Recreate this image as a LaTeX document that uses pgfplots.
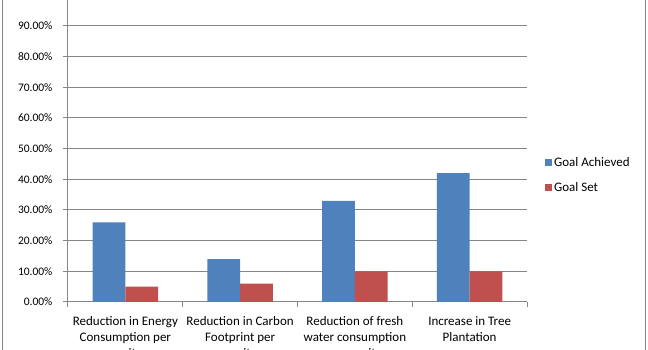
\documentclass[border=0pt]{standalone}
\usepackage{fontspec}
\setmainfont{Carlito}
\usepackage{pgfplots}
\pgfplotsset{compat=1.18}
\definecolor{gblue}{HTML}{4F81BD}
\definecolor{gred}{HTML}{C0504D}
\definecolor{ggray}{HTML}{868686}
\begin{document}
\begin{tikzpicture}[x=1pt,y=1pt]
\useasboundingbox (0,0) rectangle (648,350);
\fill[white] (0,0) rectangle (648,350);
\draw[ggray, line width=1pt] (2.5,-20) -- (2.5,370);
\draw[ggray, line width=1pt] (645,-20) -- (645,370);
\begin{axis}[
  at={(68pt,48pt)}, anchor=south west,
  scale only axis, width=459pt, height=306.7pt,
  xmin=-0.5, xmax=3.5, ymin=0, ymax=100,
  axis lines*=left,
  axis line style={ggray, line width=1pt},
  ybar=0pt, bar width=32.8pt,
  xtick={-0.5,0.5,1.5,2.5,3.5},
  x tick label as interval,
  xticklabels={{Reduction in Energy\\Consumption per\\unit},{Reduction in Carbon\\Footprint per\\unit},{Reduction of fresh\\water consumption\\per unit},{Increase in Tree\\Plantation}},
  xticklabel style={align=center, font=\fontsize{13}{16}\selectfont, yshift=-6pt},
  ytick={0,10,...,100},
  yticklabel={\pgfmathprintnumber[fixed,fixed zerofill,precision=2]{\tick}\%},
  yticklabel style={font=\fontsize{11.5}{13}\selectfont, xshift=-7pt},
  /pgf/number format/assume math mode=true,
  ymajorgrids, grid style={ggray, line width=1pt},
  tick style={ggray, line width=1pt}, major tick length=5pt, tick align=outside,
  legend style={draw=none, fill=none, at={(1.039,0.414)}, anchor=west, font=\fontsize{13}{15}\selectfont, row sep=10pt, inner sep=0pt},
  legend cell align=left,
  legend image code/.code={\fill[#1] (0pt,-3.5pt) rectangle (7pt,3.5pt);},
]
\addplot[fill=gblue, draw=none] coordinates {(0,26) (1,14) (2,33) (3,42)};
\addplot[fill=gred, draw=none] coordinates {(0,5) (1,6) (2,10) (3,10)};
\legend{Goal Achieved, Goal Set}
\end{axis}
\end{tikzpicture}
\end{document}
